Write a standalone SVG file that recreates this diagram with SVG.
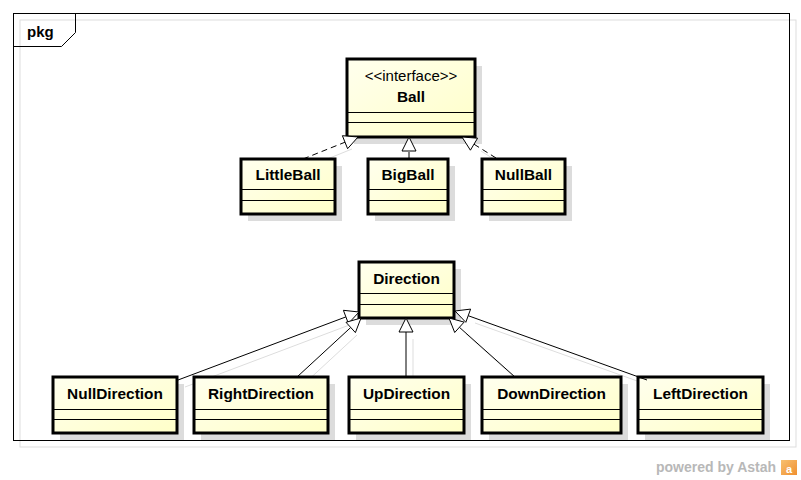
<svg xmlns="http://www.w3.org/2000/svg" width="801" height="480" viewBox="0 0 801 480">
<defs>
<linearGradient id="fill" x1="0" y1="0" x2="1" y2="1">
<stop offset="0" stop-color="#FFFFEE"/>
<stop offset="1" stop-color="#FFFFC8"/>
</linearGradient>
<linearGradient id="logo" x1="0" y1="0" x2="1" y2="1">
<stop offset="0" stop-color="#F8C070"/>
<stop offset="1" stop-color="#F09030"/>
</linearGradient>
</defs>
<style>
.shadow{fill:#DCDCDC;stroke:none}
.box{fill:url(#fill);stroke:#000;stroke-width:3}
.sep{stroke:#000;stroke-width:1}
.name{font-family:"Liberation Sans",Arial,sans-serif;font-size:15.4px;font-weight:bold;text-anchor:middle;fill:#000}
.stereo{font-family:"Liberation Sans",Arial,sans-serif;font-size:15px;text-anchor:middle;fill:#000}
.line{stroke:#000;stroke-width:1;fill:none}
.dash{stroke-dasharray:6 4}
.sline{stroke:#DDDDDD;stroke-width:1;fill:none}
.head{fill:#fff;stroke:#000;stroke-width:1}
</style>
<rect width="801" height="480" fill="#fff"/>
<g id="frame">
<rect x="20" y="20" width="776" height="427" fill="none" stroke="#DDDDDD" stroke-width="1"/>
<rect x="13.5" y="13.5" width="776" height="427" fill="none" stroke="#000" stroke-width="1"/>
<path d="M13.5,46.5 L61.5,46.5 L75.5,32.5 L75.5,13.5" fill="none" stroke="#000" stroke-width="1"/>
<text x="27" y="37" font-family="Liberation Sans,Arial,sans-serif" font-size="15" font-weight="bold">pkg</text>
</g>
<g id="connector-shadows">
<path class="sline" d="M310,166 L352,149"/>
<path class="sline" d="M416,165 L416,158"/>
<path class="sline" d="M503,165 L481,151"/>
<path class="sline" d="M185,387 L352,324"/>
<path class="sline" d="M304,384 L357,335"/>
<path class="sline" d="M413,384 L413,339"/>
<path class="sline" d="M522,384 L466,334"/>
<path class="sline" d="M654,387 L475,323"/>
</g>
<g id="nodes">
<g id="Ball">
<rect class="shadow" x="354" y="66" width="128" height="78"/>
<rect class="box" x="347" y="59" width="128" height="78"/>
<line class="sep" x1="347" y1="112.5" x2="475" y2="112.5"/>
<line class="sep" x1="347" y1="122.5" x2="475" y2="122.5"/>
<text class="stereo" x="411" y="81">&lt;&lt;interface&gt;&gt;</text>
<text class="name" x="411" y="102">Ball</text>
</g>
<g id="LittleBall">
<rect class="shadow" x="248" y="166" width="94" height="55"/>
<rect class="box" x="241" y="159" width="94" height="55"/>
<line class="sep" x1="241" y1="189.5" x2="335" y2="189.5"/>
<line class="sep" x1="241" y1="200.5" x2="335" y2="200.5"/>
<text class="name" x="288" y="180">LittleBall</text>
</g>
<g id="BigBall">
<rect class="shadow" x="375" y="166" width="80" height="55"/>
<rect class="box" x="368" y="159" width="80" height="55"/>
<line class="sep" x1="368" y1="189.5" x2="448" y2="189.5"/>
<line class="sep" x1="368" y1="200.5" x2="448" y2="200.5"/>
<text class="name" x="408" y="180">BigBall</text>
</g>
<g id="NullBall">
<rect class="shadow" x="489" y="166" width="83" height="55"/>
<rect class="box" x="482" y="159" width="83" height="55"/>
<line class="sep" x1="482" y1="189.5" x2="565" y2="189.5"/>
<line class="sep" x1="482" y1="200.5" x2="565" y2="200.5"/>
<text class="name" x="523.5" y="180">NullBall</text>
</g>
<g id="Direction">
<rect class="shadow" x="366" y="269" width="95" height="56"/>
<rect class="box" x="359" y="262" width="95" height="56"/>
<line class="sep" x1="359" y1="293.5" x2="454" y2="293.5"/>
<line class="sep" x1="359" y1="304.5" x2="454" y2="304.5"/>
<text class="name" x="406.5" y="284">Direction</text>
</g>
<g id="NullDirection">
<rect class="shadow" x="60" y="384" width="124" height="56"/>
<rect class="box" x="53" y="377" width="124" height="56"/>
<line class="sep" x1="53" y1="409.5" x2="177" y2="409.5"/>
<line class="sep" x1="53" y1="419.5" x2="177" y2="419.5"/>
<text class="name" x="115" y="399">NullDirection</text>
</g>
<g id="RightDirection">
<rect class="shadow" x="201" y="384" width="134" height="56"/>
<rect class="box" x="194" y="377" width="134" height="56"/>
<line class="sep" x1="194" y1="409.5" x2="328" y2="409.5"/>
<line class="sep" x1="194" y1="419.5" x2="328" y2="419.5"/>
<text class="name" x="261" y="399">RightDirection</text>
</g>
<g id="UpDirection">
<rect class="shadow" x="356" y="384" width="115" height="56"/>
<rect class="box" x="349" y="377" width="115" height="56"/>
<line class="sep" x1="349" y1="409.5" x2="464" y2="409.5"/>
<line class="sep" x1="349" y1="419.5" x2="464" y2="419.5"/>
<text class="name" x="406.5" y="399">UpDirection</text>
</g>
<g id="DownDirection">
<rect class="shadow" x="489" y="384" width="139" height="56"/>
<rect class="box" x="482" y="377" width="139" height="56"/>
<line class="sep" x1="482" y1="409.5" x2="621" y2="409.5"/>
<line class="sep" x1="482" y1="419.5" x2="621" y2="419.5"/>
<text class="name" x="551.5" y="399">DownDirection</text>
</g>
<g id="LeftDirection">
<rect class="shadow" x="645" y="384" width="125" height="56"/>
<rect class="box" x="638" y="377" width="125" height="56"/>
<line class="sep" x1="638" y1="409.5" x2="763" y2="409.5"/>
<line class="sep" x1="638" y1="419.5" x2="763" y2="419.5"/>
<text class="name" x="700.5" y="399">LeftDirection</text>
</g>
</g>
<g id="connectors">
<path class="line dash" d="M303,159 L345,142.2"/>
<polygon class="head" points="358,137 347.6,148.7 342.4,135.7"/>
<path class="line dash" d="M409,158 L409,151"/>
<polygon class="head" points="409,137 402,151 416,151"/>
<path class="line dash" d="M496,158 L474,144.2"/>
<polygon class="head" points="462,137 477.6,138.2 470.4,150.2"/>
<path class="line" d="M178,380 L345.9,316.9"/>
<polygon class="head" points="359,312 348.4,323.5 343.4,310.3"/>
<path class="line" d="M297,377 L350.7,327.5"/>
<polygon class="head" points="361,318 355.4,332.6 346,322.3"/>
<path class="line" d="M406,377 L406,332"/>
<polygon class="head" points="406,318 399,332 413,332"/>
<path class="line" d="M515,377 L459.4,327.3"/>
<polygon class="head" points="449,318 464.1,322.1 454.7,332.5"/>
<path class="line" d="M647,380 L468.2,315.7"/>
<polygon class="head" points="455,311 470.6,309.1 465.8,322.3"/>
</g>
<g id="watermark">
<text x="656" y="472" font-family="Liberation Sans,Arial,sans-serif" font-size="14" font-weight="bold" fill="#B8B8B8">powered by Astah</text>
<rect x="781" y="460" width="16" height="15" fill="url(#logo)"/>
<text x="786" y="473" font-family="Liberation Sans,Arial,sans-serif" font-size="11" font-weight="bold" fill="#fff">a</text>
</g>
</svg>
